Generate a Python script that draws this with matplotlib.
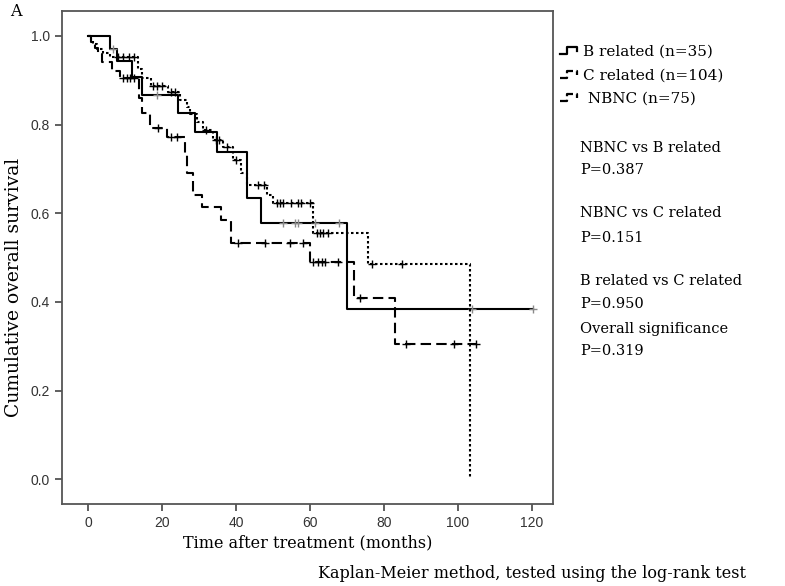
import numpy as np
import matplotlib.pyplot as plt
from matplotlib.lines import Line2D
from matplotlib.legend_handler import HandlerBase

# Kaplan-Meier step data (time in months, survival after the step)
b_times = [0, 5.9, 7.8, 11.8, 14.5, 24.4, 28.9, 34.8, 42.9, 46.9, 70.1, 120.3]
b_surv = [1.0, 0.971, 0.943, 0.908, 0.867, 0.826, 0.784, 0.739, 0.634, 0.577, 0.384, 0.384]
b_cens = [6.8, 18.6, 52.7, 56.0, 56.8, 61.4, 67.8, 103.7, 120.3]

c_times = [0, 0.8, 1.5, 2.5, 4.0, 6.0, 13.6, 14.5, 17.0, 21.6, 24.9, 26.7, 27.6, 29.5,
           31.2, 33.9, 36.6, 39.3, 41.5, 42.9, 48.4, 50.1, 60.9, 75.8, 103.2]
c_surv = [1.0, 0.99, 0.981, 0.971, 0.962, 0.952, 0.925, 0.904, 0.886, 0.874, 0.856, 0.84,
          0.825, 0.806, 0.788, 0.765, 0.75, 0.72, 0.69, 0.664, 0.641, 0.622, 0.556, 0.485, 0.0]
c_cens = [8.0, 9.5, 11.0, 12.5, 17.6, 18.8, 20.0, 22.5, 23.5, 32.0, 34.5, 35.5, 37.5, 40.0,
          46.0, 47.5, 51.0, 51.9, 52.8, 55.0, 56.8, 57.7, 60.0, 61.8, 62.7, 63.6, 64.9,
          76.8, 85.0]

n_times = [0, 0.8, 1.8, 2.8, 3.7, 6.4, 8.6, 13.8, 14.5, 16.8, 21.3, 26.2, 26.8, 28.5,
           30.8, 36.1, 38.8, 60.0, 72.0, 83.0, 105.0]
n_surv = [1.0, 0.987, 0.973, 0.96, 0.942, 0.922, 0.906, 0.86, 0.826, 0.792, 0.773, 0.736,
          0.69, 0.641, 0.615, 0.585, 0.532, 0.49, 0.408, 0.306, 0.306]
n_cens = [9.5, 10.5, 11.5, 12.5, 19.0, 22.5, 24.0, 40.5, 47.8, 54.6, 58.0, 60.8, 62.2,
          63.2, 64.0, 67.6, 73.5, 86.0, 99.0, 105.0]

labels = ["B related (n=35)", "C related (n=104)", " NBNC (n=75)"]
stats = ["NBNC vs B related", "P=0.387", "NBNC vs C related", "P=0.151",
         "B related vs C related", "P=0.950", "Overall significance", "P=0.319"]

serif = "DejaVu Serif"
sans = "Liberation Sans"
dotted = (0, (1.2, 1.2))
dashed = (0, (5, 2.5))

fig = plt.figure(figsize=(7.85, 5.86), dpi=100)
ax = fig.add_axes([0.079, 0.140, 0.6255, 0.841])


def surv_at(times, surv, t):
    i = np.searchsorted(times, t, side="right") - 1
    return np.asarray(surv)[i]


def km(times, surv, cens, ls, cens_color):
    ax.plot(times, surv, drawstyle="steps-post", color="black", lw=1.5, linestyle=ls)
    ax.plot(cens, surv_at(times, surv, cens), linestyle="none", marker="+",
            ms=5.5, mew=1.0, color=cens_color)


km(b_times, b_surv, b_cens, "-", "#8a8a8a")
km(c_times, c_surv, c_cens, dotted, "black")
km(n_times, n_surv, n_cens, dashed, "black")

ax.set_xlim(-7, 125.7)
ax.set_ylim(-0.056, 1.056)
ax.set_xticks(np.arange(0, 121, 20))
ax.set_yticks(np.arange(0, 1.01, 0.2))
ax.set_yticklabels([f"{v:.1f}" for v in np.arange(0, 1.01, 0.2)])
ax.tick_params(direction="out", length=5, width=1.2, color="#444444",
               labelsize=10, labelcolor="#333333")
for lab in ax.get_xticklabels() + ax.get_yticklabels():
    lab.set_family(sans)
for s in ax.spines.values():
    s.set_color("#555555")
    s.set_linewidth(1.3)

ax.set_xlabel("Time after treatment (months)", family=serif, fontsize=11.5, labelpad=3)
fig.text(14 / 785, 1 - 287 / 586, "Cumulative overall survival", family=serif,
         fontsize=13.5, rotation=90, ha="center", va="center")


# small step-shaped legend keys, like the SPSS output
class StepHandler(HandlerBase):
    def create_artists(self, legend, orig, xd, yd, w, h, fontsize, trans):
        xs = np.array([0, 0.4, 0.4, 1.0, 1.0]) * w - xd
        ys = np.array([0.15, 0.15, 0.8, 0.8, 0.45]) * h - yd
        ln = Line2D(xs, ys, color=orig.get_color(), lw=orig.get_linewidth(),
                    linestyle=orig.get_linestyle())
        ln.set_transform(trans)
        return [ln]


handles = [Line2D([], [], color="black", lw=1.6, linestyle="-"),
           Line2D([], [], color="black", lw=1.6, linestyle=dotted),
           Line2D([], [], color="black", lw=1.6, linestyle=dashed)]
fig.legend(handles, labels, loc="upper left", bbox_to_anchor=(560 / 785, 1 - 45 / 586),
           frameon=False, prop={"family": serif, "size": 11}, handlelength=1.1,
           handletextpad=0.4, labelspacing=0.62, borderaxespad=0, borderpad=0,
           handler_map={Line2D: StepHandler()})

ys = [148, 170, 213, 238, 281, 304, 329, 351]
for txt, y in zip(stats, ys):
    fig.text(580 / 785, 1 - y / 586, txt, family=serif, fontsize=10.5, va="center")

fig.text(10 / 785, 1 - 12 / 586, "A", family=serif, fontsize=11.5, va="center")
fig.text(318 / 785, 1 - 573 / 586, "Kaplan-Meier method, tested using the log-rank test",
         family=serif, fontsize=11.5, va="center")

fig.savefig("out.png", dpi=100, facecolor="white")
